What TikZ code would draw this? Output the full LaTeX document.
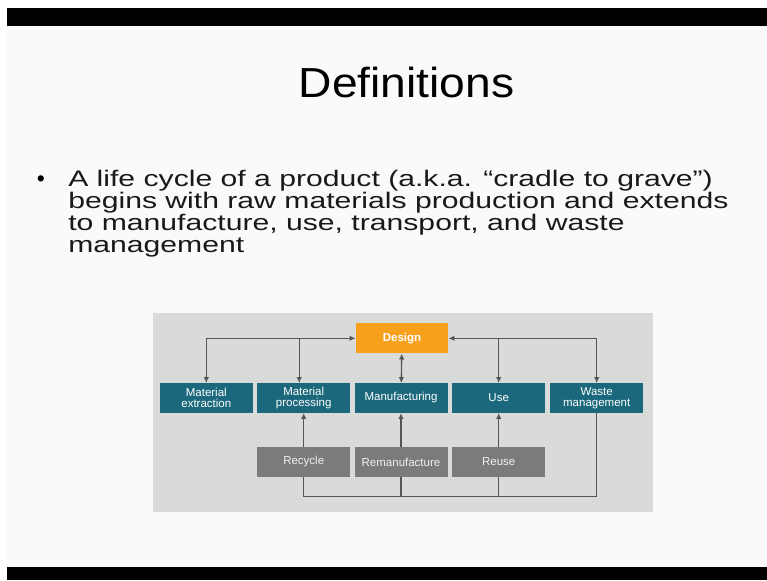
\documentclass[tikz,border=0pt]{standalone}
\usepackage{fontspec}
\setmainfont{Liberation Sans}
\usetikzlibrary{arrows.meta}
\definecolor{slidebg}{HTML}{FAFAFA}
\definecolor{panelgray}{HTML}{D9DADA}
\definecolor{stageteal}{HTML}{1B687C}
\definecolor{designorange}{HTML}{F6A01C}
\definecolor{loopgray}{HTML}{7B7B7B}
\definecolor{linkgray}{HTML}{555555}
\begin{document}
\begin{tikzpicture}[x = 1pt, y = -1pt, >={Latex[length=6pt,width=5.5pt]},
  stage/.style = {fill = stageteal, text = white, minimum width = 93pt, minimum height = 29.5pt,
    inner sep = 0pt, align = center, font = \fontsize{11.5}{11.5}\selectfont},
  loopbox/.style = {stage, fill = loopgray, text = white!88!gray},
  link/.style = {draw = linkgray, line width = 1.3pt},
  bodytext/.style = {anchor = base west, inner sep = 0pt, xscale = 1.34, text = black!90,
    font = \fontsize{22.5}{22.5}\selectfont}]
\useasboundingbox (0,0) rectangle (767,580);
\fill[white] (0,0) rectangle (767,580);
\fill[slidebg] (7,26) rectangle (767,567);
\fill[black] (7,8) rectangle (767,26);
\fill[black] (7,567) rectangle (767,580);
% title and bullet
\node[anchor = base, inner sep = 0pt, xscale = 1.1, font = \fontsize{42}{42}\selectfont] (title) at (406.5,98) {Definitions};
\node[anchor = base, inner sep = 0pt, font = \fontsize{23}{23}\selectfont] (dot) at (41,186) {•};
\node[bodytext] (line1) at (68,186) {A life cycle of a product (a.k.a. “cradle to grave”)};
\node[bodytext] (line2) at (68,208) {begins with raw materials production and extends};
\node[bodytext] (line3) at (68,230) {to manufacture, use, transport, and waste};
\node[bodytext] (line4) at (68,252) {management};
% diagram
\fill[panelgray] (153,313) rectangle (652.5,512);
\node[stage, fill = designorange, minimum width = 92.5pt, minimum height = 30pt] (design) at (402,338.3) {\textbf{Design}};
\node[stage] (mext) at (206.3,398) {Material\\extraction};
\node[stage] (mproc) at (303.7,398) {Material\\processing};
\node[stage] (manuf) at (401,398) {Manufacturing};
\node[stage] (use) at (498.7,398) {Use};
\node[stage] (waste) at (596.7,398) {Waste\\management};
\coordinate (loop) at (0,496.7);
\draw[link, <->] (mext.north) |- (design.west);
\draw[link, <->] (waste.north) |- (design.east);
\draw[link, ->] ([xshift = -4.5pt]mproc.north |- design.west) -- ([xshift = -4.5pt]mproc.north);
\draw[link, ->] (use.north |- design.east) -- (use.north);
\draw[link, <->] (design) -- (manuf);
\draw[link] (waste.south) |- (loop -| mproc.south);
\draw[link, ->] (loop -| mproc.south) -- (mproc.south);
\draw[link, ->] (loop -| manuf.south) -- (manuf.south);
\draw[link, ->] (loop -| use.south) -- (use.south);
\node[loopbox] (recycle) at (303.7,462) {Recycle};
\node[loopbox] (reman) at (401,462) {Remanufacture};
\node[loopbox] (reuse) at (498.7,462) {Reuse};
\end{tikzpicture}
\end{document}
